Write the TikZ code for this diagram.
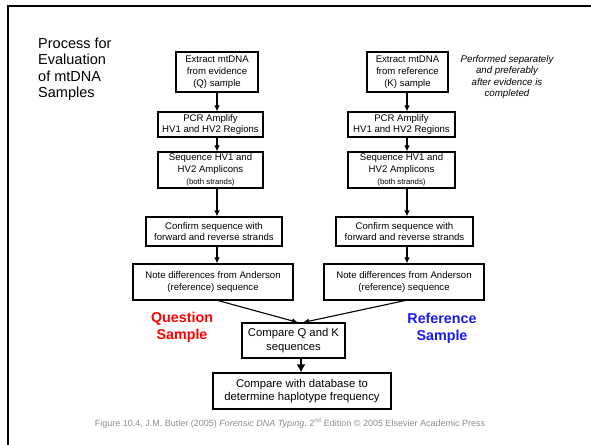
\documentclass[tikz,border=0pt]{standalone}
\usepackage{fontspec}
\setmainfont{Liberation Sans}
\usetikzlibrary{arrows.meta}
\definecolor{capgray}{RGB}{140,140,140}
\definecolor{refblue}{RGB}{25,25,245}
\begin{document}
\begin{tikzpicture}[x=1pt,y=-1pt,
  stepbox/.style={draw,line width=1.1pt,inner sep=0pt,align=center,
    font=\fontsize{9.6}{11.8}\selectfont},
  bigbox/.style={stepbox,font=\fontsize{11.3}{13.6}\selectfont},
  arr/.style={line width=1.1pt,-{Latex[length=6pt,width=5.5pt]}},
  thickarr/.style={line width=2.6pt,-{Latex[length=8pt,width=9pt]}},
  tag/.style={font=\fontsize{14.3}{17}\selectfont\bfseries,align=center,inner sep=0pt}]
\useasboundingbox (0,0) rectangle (591,444);
% corner frame
\draw[line width=2.8pt] (8,446) -- (8,6) -- (593,6);

% title
\node[anchor=north west,inner sep=0pt,align=left,
  font=\fontsize{14.5}{16.5}\selectfont] (title) at (38,37.5)
  {Process for\\Evaluation\\of mtDNA\\Samples};

% evidence (Q) column
\node[stepbox,minimum width=82pt,minimum height=40pt] (q1) at (217,72)
  {Extract mtDNA\\from evidence\\(Q) sample};
\node[stepbox,minimum width=105pt,minimum height=25pt] (q2) at (210.5,124.5)
  {PCR Amplify\\HV1 and HV2 Regions};
\node[stepbox,minimum width=105pt,minimum height=36pt] (q3) at (210.5,170)
  {Sequence HV1 and\\HV2 Amplicons\\{\fontsize{7.8}{10}\selectfont(both strands)}};
\node[stepbox,minimum width=136pt,minimum height=29pt] (q4) at (214,231.5)
  {Confirm sequence with\\forward and reverse strands};
\node[stepbox,minimum width=160pt,minimum height=36pt] (q5) at (213,282)
  {Note differences from Anderson\\(reference) sequence};

% reference (K) column
\node[stepbox,minimum width=81pt,minimum height=40pt] (k1) at (407.5,72)
  {Extract mtDNA\\from reference\\(K) sample};
\node[stepbox,minimum width=107pt,minimum height=25pt] (k2) at (401.5,124.5)
  {PCR Amplify\\HV1 and HV2 Regions};
\node[stepbox,minimum width=107pt,minimum height=36pt] (k3) at (401.5,170)
  {Sequence HV1 and\\HV2 Amplicons\\{\fontsize{7.8}{10}\selectfont(both strands)}};
\node[stepbox,minimum width=137pt,minimum height=29pt] (k4) at (404.5,231.5)
  {Confirm sequence with\\forward and reverse strands};
\node[stepbox,minimum width=160pt,minimum height=36pt] (k5) at (404,282)
  {Note differences from Anderson\\(reference) sequence};

% comparison steps
\node[bigbox,minimum width=103pt,minimum height=35pt] (cmp) at (293.5,340.5)
  {Compare Q and K\\sequences};
\node[bigbox,minimum width=178pt,minimum height=36pt] (db) at (302,391)
  {Compare with database to\\determine haplotype frequency};

% side notes
\node[align=center,inner sep=0pt,font=\fontsize{9.7}{11.4}\selectfont\itshape] (note) at (507,77)
  {Performed separately\\and preferably\\after evidence is\\completed};
\node[tag,text=red] (qlab) at (182,327) {Question\\Sample};
\node[tag,text=refblue] (klab) at (442,328.5) {Reference\\Sample};

% caption
\node[inner sep=0pt,text=capgray,font=\fontsize{9}{10}\selectfont] (cap) at (290,423)
  {Figure 10.4, J.M. Butler (2005) \textit{Forensic DNA Typing}, 2\textsuperscript{nd} Edition © 2005 Elsevier Academic Press};

% connectors
\coordinate (qx) at (217,0);
\coordinate (kx) at (407,0);
\foreach \a/\b in {q1/q2,q2/q3,q3/q4,q4/q5}
  \draw[arr] (qx |- \a.south) -- (qx |- \b.north);
\foreach \a/\b in {k1/k2,k2/k3,k3/k4,k4/k5}
  \draw[arr] (kx |- \a.south) -- (kx |- \b.north);
\draw[arr] ([xshift=5pt]q5.south) -- ([xshift=4.5pt]cmp.north);
\draw[arr] ([xshift=1pt]k5.south) -- ([xshift=9.5pt]cmp.north);
\draw[thickarr] ([xshift=7.5pt]cmp.south) -- ([xshift=7.5pt]cmp.south |- db.north);
\end{tikzpicture}
\end{document}
